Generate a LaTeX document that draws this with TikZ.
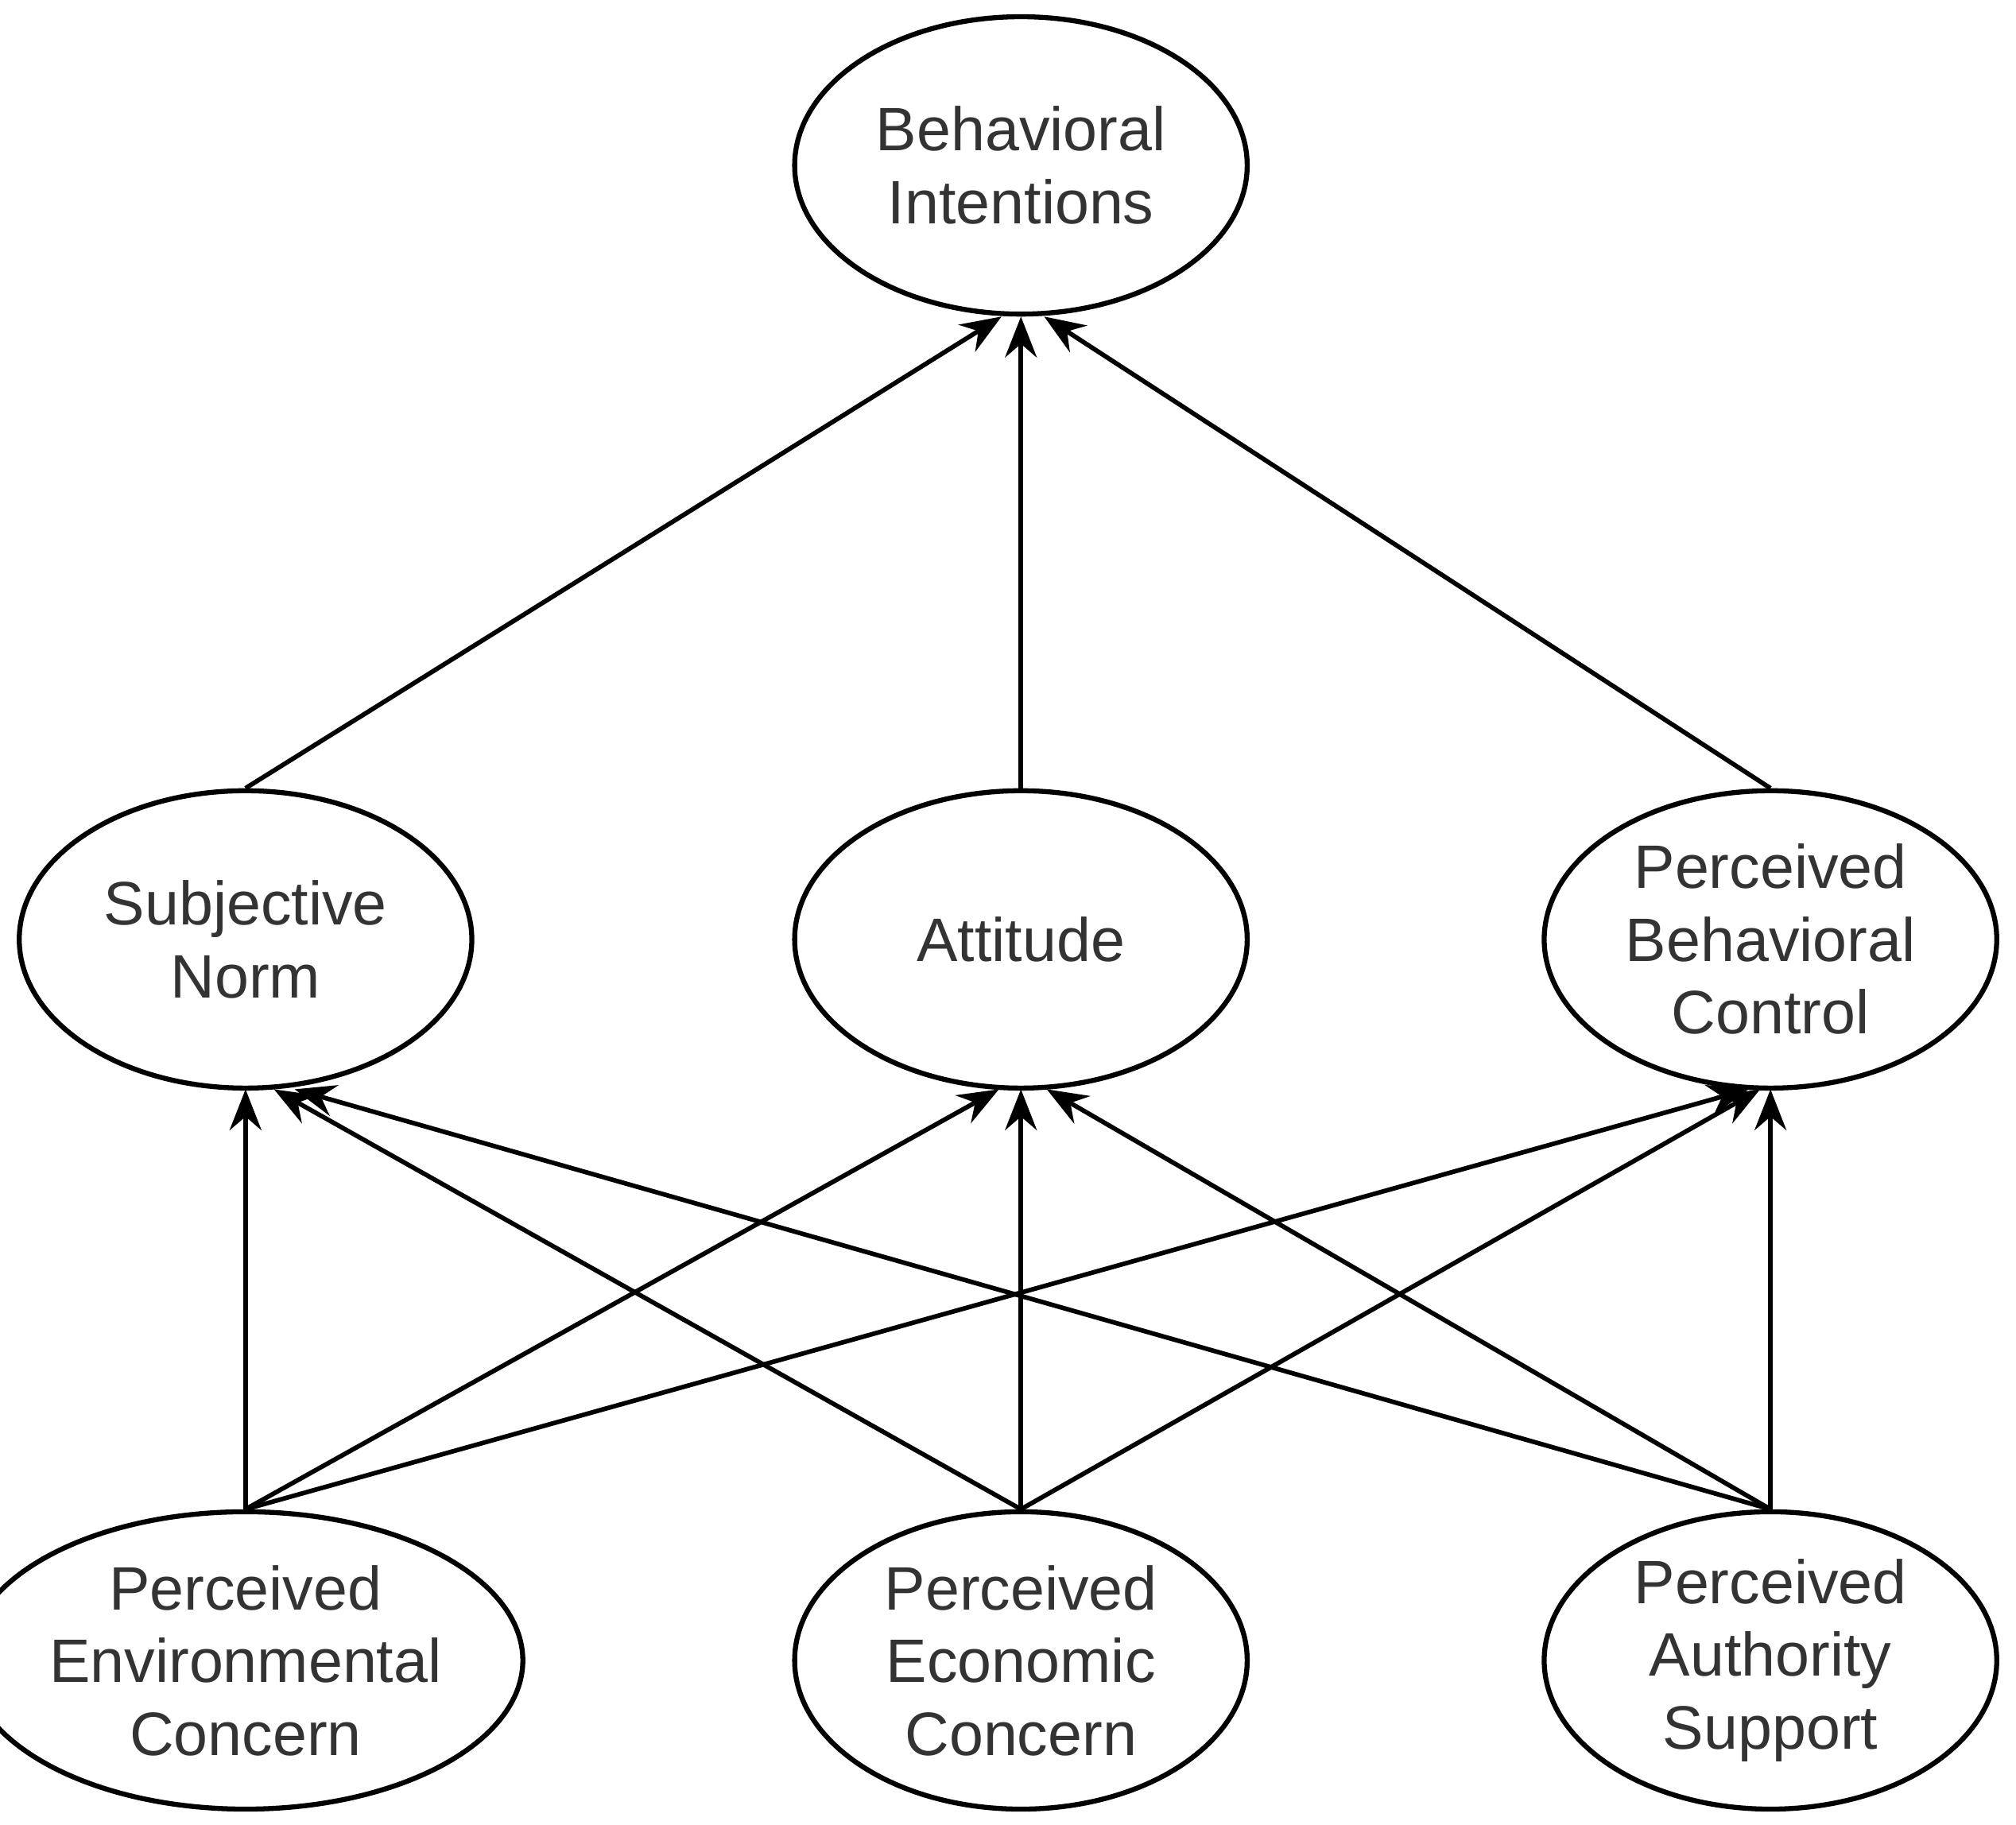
\documentclass[tikz,border=0pt]{standalone}
\usepackage{fontspec}
\setmainfont{Liberation Sans}
\usetikzlibrary{shapes.geometric,arrows.meta}
\begin{document}
\begin{tikzpicture}[x=0.01cm,y=-0.01cm,
  ell/.style={ellipse,draw,line width=1.1pt,minimum width=350\pgflinewidth,minimum width=3.5cm,minimum height=2.3cm,inner sep=0pt,align=center,font=\fontsize{13.5}{16}\selectfont,text=black!80},
  arr/.style={line width=1pt,-{Stealth[length=9pt,width=7pt,inset=3pt]}}]
\useasboundingbox (0,0) rectangle (1560,1412);
\node[ell] (bi) at (790,128) {Behavioral\\Intentions};
\node[ell] (sn) at (190,727) {Subjective\\Norm};
\node[ell] (at) at (790,727) {Attitude};
\node[ell] (pbc) at (1370,727) {Perceived\\Behavioral\\Control};
\node[ell] (pec) at (190,1285) {Perceived\\Environmental\\Concern};
\node[ell] (pecc) at (790,1285) {Perceived\\Economic\\Concern};
\node[ell] (pas) at (1370,1285) {Perceived\\Authority\\Support};
\coordinate (bi1) at (775,245); \coordinate (bi2) at (790,245); \coordinate (bi3) at (808,245);
\coordinate (sn1) at (190,843); \coordinate (sn2) at (212,843); \coordinate (sn3) at (228,843);
\coordinate (at1) at (773,843); \coordinate (at2) at (790,843); \coordinate (at3) at (810,843);
\coordinate (pb1) at (1353,843); \coordinate (pb2) at (1362,843); \coordinate (pb3) at (1370,843);
\draw[arr] (sn.north) -- (bi1);
\draw[arr] (at.north) -- (bi2);
\draw[arr] (pbc.north) -- (bi3);
\draw[arr] (pec.north) -- (sn1);
\draw[arr] (pec.north) -- (at1);
\draw[arr] (pec.north) -- (pb1);
\draw[arr] (pecc.north) -- (sn2);
\draw[arr] (pecc.north) -- (at2);
\draw[arr] (pecc.north) -- (pb2);
\draw[arr] (pas.north) -- (sn3);
\draw[arr] (pas.north) -- (at3);
\draw[arr] (pas.north) -- (pb3);
\end{tikzpicture}
\end{document}
